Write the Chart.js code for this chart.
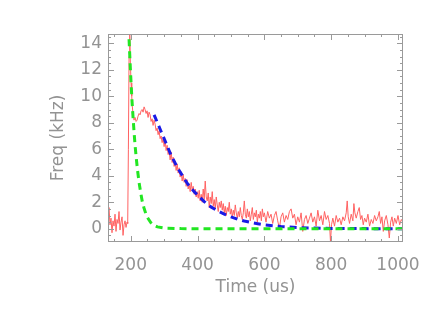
<!DOCTYPE html>
<html>
<head>
<meta charset="utf-8">
<script src="https://cdn.jsdelivr.net/npm/chart.js@4/dist/chart.umd.min.js"></script>
<style>
  html, body { margin: 0; padding: 0; background: #fff; }
  #wrap { width: 436px; height: 312px; }
</style>
</head>
<body>
<div id="wrap"><canvas id="freqChart" width="436" height="312"></canvas></div>
<script>
// Tick labels + minor ticks (drawn inward like the IDL box)
const xTicks = [200, 400, 600, 800, 1000];
const yTicks = [0, 2, 4, 6, 8, 10, 12, 14];
const xMinor = [150, 200, 250, 300, 350, 400, 450, 500, 550, 600, 650, 700, 750, 800, 850, 900, 950, 1000];
const yMinor = [-0.5, 0, 0.5, 1, 1.5, 2, 2.5, 3, 3.5, 4, 4.5, 5, 5.5, 6, 6.5, 7, 7.5, 8, 8.5, 9, 9.5, 10, 10.5, 11, 11.5, 12, 12.5, 13, 13.5, 14, 14.5];

// Measured frequency (red, noisy)
const measTime = [132, 135, 138, 141, 144, 147, 150, 153, 156, 159, 162, 165, 168, 171, 174, 177, 180, 183, 186, 189,
  191, 193, 195, 197, 199, 201, 203, 205, 207, 210, 213, 216, 219, 222, 225, 228, 231, 234, 237, 240,
  243, 246, 249, 252, 255, 258, 261, 264, 267, 270, 273, 276, 279, 282, 285, 288, 291, 294, 297, 300,
  303, 306, 309, 312, 315, 318, 321, 324, 327, 330, 333, 336, 339, 342, 345, 348, 351, 354, 357, 360,
  363, 366, 369, 372, 375, 378, 381, 384, 387, 390, 393, 396, 399, 402, 405, 408, 411, 414, 417, 420,
  423, 426, 429, 432, 435, 438, 441, 444, 447, 450, 453, 456, 459, 462, 465, 468, 471, 474, 477, 480,
  483, 486, 489, 492, 495, 498, 501, 504, 507, 510, 513, 516, 519, 522, 525, 528, 531, 534, 537, 540,
  543, 546, 549, 552, 555, 558, 561, 564, 567, 570, 573, 576, 579, 582, 585, 588, 591, 594, 597, 600,
  605, 610, 615, 620, 625, 630, 635, 640, 645, 650, 655, 660, 665, 670, 675, 680, 685, 690, 695, 700,
  705, 710, 715, 720, 725, 730, 735, 740, 745, 750, 755, 760, 765, 770, 775, 780, 785, 790, 795, 798,
  801, 805, 810, 815, 820, 825, 830, 835, 840, 845, 848, 851, 855, 860, 865, 868, 871, 875, 880, 884,
  888, 892, 896, 900, 905, 910, 915, 920, 925, 930, 935, 940, 944, 948, 952, 956, 960, 965, 970, 974,
  978, 982, 986, 990, 995, 1000, 1005, 1010, 1015];
const measFreq = [0.9, 1.6, 0.3, 0.8, -0.3, 0.6, 0.2, 1.1, -0.2, 0.7, 0.4, 1.3, -0.1, 0.5, 0.9, -0.5, 0.3, 0.6, 0.1, 0.5,
  0.4, 6.0, 13.0, 14.8, 12.5, 11.0, 10.0, 9.2, 8.6, 8.2, 8.4, 8.1, 8.2, 8.5, 8.7, 8.6, 8.9, 9.0, 8.8, 9.2,
  9.0, 8.7, 8.9, 8.4, 8.8, 8.6, 8.1, 8.3, 7.8, 8.2, 7.9, 7.4, 7.6, 7.1, 7.4, 6.8, 7.0, 6.5, 6.8, 6.2,
  6.7, 5.9, 6.3, 5.6, 5.9, 5.2, 5.8, 5.0, 5.4, 4.7, 5.1, 4.4, 4.9, 4.2, 4.6, 3.9, 4.3, 3.6, 4.1, 3.5,
  3.8, 3.2, 3.7, 3.0, 3.4, 2.8, 3.5, 2.9, 3.2, 2.6, 3.0, 2.4, 2.8, 2.3, 2.9, 2.1, 2.6, 2.0, 3.0, 2.2,
  3.6, 2.4, 2.1, 2.7, 1.6, 2.4, 1.9, 2.8, 1.7, 2.2, 1.5, 2.4, 1.8, 1.3, 2.0, 1.6, 2.1, 1.4, 1.9, 1.2,
  1.7, 1.0, 1.6, 1.3, 2.0, 1.1, 1.5, 0.9, 1.4, 1.0, 1.8, 1.2, 0.8, 1.3, 0.9, 1.6, 1.0, 0.7, 1.2, 2.1,
  1.1, 0.8, 1.5, 0.9, 1.3, 0.6, 1.1, 1.6, 0.7, 1.2, 0.9, 1.4, 0.5, 1.1, 0.8, 1.3, 0.6, 1.5, 0.9, 1.2,
  0.5, 1.3, 0.8, 1.1, 0.4, 1.0, 1.3, 0.6, 0.0, 0.9, 1.2, 0.5, 1.0, 0.7, 1.3, 1.5, 0.8, 1.1, 0.3, 0.9,
  0.5, 1.2, -0.2, 0.7, 1.0, 0.4, 0.8, 1.2, 0.5, 0.9, 0.2, 1.4, 0.6, 1.0, 0.3, 1.3, 0.7, 1.0, 0.4, -1.0,
  0.3, 0.8, 0.2, 1.0, 0.5, 0.8, 0.3, 0.9, 0.6, 1.2, 2.1, 0.9, 0.4, 1.1, 0.6, 1.9, 1.2, 0.8, 1.3, 1.6,
  0.7, 1.0, 0.3, 0.8, 0.5, 1.1, 0.2, 0.7, 0.4, 1.0, 0.6, 0.9, 1.3, 0.4, 0.9, -0.2, 0.6, 1.0, 0.3, -0.7,
  0.5, 0.9, 0.2, 0.8, 0.4, 1.0, 0.3, 0.7, 0.5];

// Slow decay fit (blue dashed)
const fitTime = [270, 280, 290, 300, 310, 320, 330, 340, 350, 360, 370, 380, 390, 400, 420, 440, 460, 480, 500,
  520, 540, 560, 580, 600, 650, 700, 750, 800, 900, 1015];
const fitFreq = [8.6, 8.0, 7.4, 6.8, 6.2, 5.6, 5.1, 4.6, 4.2, 3.8, 3.4, 3.1, 2.8, 2.55, 2.05, 1.65, 1.35, 1.1, 0.9,
  0.72, 0.58, 0.47, 0.38, 0.3, 0.17, 0.09, 0.05, 0.02, 0.01, 0.0];

// Fast decay fit (green dashed)
const fastTime = [195, 198, 201, 204, 207, 210, 213, 216, 220, 225, 230, 235, 240, 245, 250, 260, 270, 280, 300,
  350, 400, 1015];
const fastFreq = [14.3, 12.6, 11.0, 9.6, 8.4, 7.3, 6.3, 5.5, 4.5, 3.5, 2.7, 2.0, 1.55, 1.15, 0.85, 0.47, 0.25, 0.14, 0.05,
  0.01, 0.0, 0.0];

const axisGray = '#9a9a9a';
const textGray = '#939393';

function pairs(xs, ys) {
    return xs.map((x, i) => ({ x: x, y: ys[i] }));
}

// frame around plot with inward ticks on all four sides
const boxTicks = {
    id: 'boxTicks',
    afterDatasetsDraw(chart) {
        const ctx = chart.ctx;
        const a = chart.chartArea;
        const xs = chart.scales.x;
        const ys = chart.scales.y;
        ctx.save();
        ctx.strokeStyle = axisGray;
        ctx.lineWidth = 1;
        ctx.strokeRect(a.left + 0.5, a.top + 0.5, a.right - a.left - 1, a.bottom - a.top - 1);
        ctx.beginPath();
        xMinor.forEach(v => {
            const len = xTicks.includes(v) ? 6 : 3;
            const px = Math.round(xs.getPixelForValue(v)) + 0.5;
            ctx.moveTo(px, a.bottom); ctx.lineTo(px, a.bottom - len);
            ctx.moveTo(px, a.top); ctx.lineTo(px, a.top + len);
        });
        yMinor.forEach(v => {
            const len = yTicks.includes(v) ? 6 : 3;
            const py = Math.round(ys.getPixelForValue(v)) + 0.5;
            ctx.moveTo(a.left, py); ctx.lineTo(a.left + len, py);
            ctx.moveTo(a.right, py); ctx.lineTo(a.right - len, py);
        });
        ctx.stroke();
        ctx.restore();
    }
};

const ctx = document.getElementById('freqChart').getContext('2d');
new Chart(ctx, {
    type: 'line',
    data: {
        datasets: [
            {
                label: 'fast',
                data: pairs(fastTime, fastFreq),
                borderColor: '#22e622',
                borderWidth: 3,
                borderDash: [7, 5],
                pointRadius: 0,
                order: 0
            },
            {
                label: 'fit',
                data: pairs(fitTime, fitFreq),
                borderColor: '#1a1ae6',
                borderWidth: 3,
                borderDash: [7, 5],
                pointRadius: 0,
                order: 1
            },
            {
                label: 'freq',
                data: pairs(measTime, measFreq),
                borderColor: '#ff6262',
                borderWidth: 1,
                pointRadius: 0,
                order: 2
            }
        ]
    },
    options: {
        responsive: false,
        animation: false,
        layout: { padding: { left: 0, right: 33, top: 34, bottom: 0 } },
        plugins: { legend: { display: false }, tooltip: { enabled: false } },
        scales: {
            x: {
                type: 'linear',
                min: 132,
                max: 1015,
                grid: { display: false, drawTicks: false },
                border: { display: false },
                afterBuildTicks: s => { s.ticks = xTicks.map(v => ({ value: v })); },
                afterFit: s => { s.height = 70; },
                ticks: { color: textGray, padding: 13, maxRotation: 0, callback: v => String(v),
                         font: { family: 'DejaVu Sans', size: 17 } },
                title: { display: true, text: 'Time (us)', color: textGray, padding: { top: 0, bottom: 14 },
                         font: { family: 'DejaVu Sans', size: 17 } }
            },
            y: {
                type: 'linear',
                min: -1,
                max: 14.7,
                grid: { display: false, drawTicks: false },
                border: { display: false },
                afterBuildTicks: s => { s.ticks = yTicks.map(v => ({ value: v })); },
                afterFit: s => { s.width = 108; },
                ticks: { color: textGray, padding: 6, callback: v => String(v),
                         font: { family: 'DejaVu Sans', size: 17 } },
                title: { display: true, text: 'Freq (kHz)', color: textGray, padding: { top: 48, bottom: 0 },
                         font: { family: 'DejaVu Sans', size: 17 } }
            }
        }
    },
    plugins: [boxTicks]
});
</script>
</body>
</html>
